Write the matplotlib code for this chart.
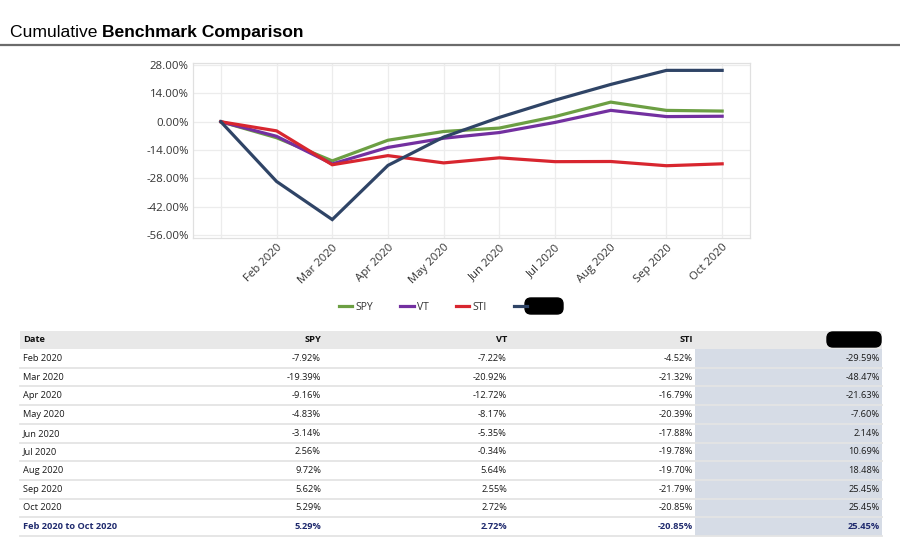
import matplotlib
matplotlib.use("Agg")
import matplotlib.pyplot as plt
from matplotlib.patches import FancyBboxPatch, Rectangle
from matplotlib.lines import Line2D

# ---------------- data ----------------
months = ["Feb 2020", "Mar 2020", "Apr 2020", "May 2020", "Jun 2020",
          "Jul 2020", "Aug 2020", "Sep 2020", "Oct 2020"]
series_names = ["SPY", "VT", "STI", ""]
spy = [-7.92, -19.39, -9.16, -4.83, -3.14, 2.56, 9.72, 5.62, 5.29]
vt = [-7.22, -20.92, -12.72, -8.17, -5.35, -0.34, 5.64, 2.55, 2.72]
sti = [-4.52, -21.32, -16.79, -20.39, -17.88, -19.78, -19.70, -21.79, -20.85]
fund = [-29.59, -48.47, -21.63, -7.60, 2.14, 10.69, 18.48, 25.45, 25.45]
summary_label = "Feb 2020 to Oct 2020"
summary = [5.29, 2.72, -20.85, 25.45]
start_value = 0.0
y_ticks = [28, 14, 0, -14, -28, -42, -56]

colors = ["#6c9f43", "#7330a0", "#d8262f", "#2f4466"]

W, H = 900, 541
fig = plt.figure(figsize=(W / 100, H / 100), dpi=100)
fig.patch.set_facecolor("white")

# overlay axes in pixel coordinates
ov = fig.add_axes([0, 0, 1, 1])
ov.set_xlim(0, W)
ov.set_ylim(H, 0)
ov.axis("off")

# title
tfs = 12.6
t1 = ov.text(10, 37, "Cumulative ", fontsize=tfs, family="Liberation Sans",
             ha="left", va="baseline", color="black")
fig.canvas.draw()
bb = t1.get_window_extent()
x2 = ov.transData.inverted().transform((bb.x1, bb.y0))[0]
ov.text(x2, 37, "Benchmark Comparison", fontsize=tfs, family="Liberation Sans",
        fontweight="bold", ha="left", va="baseline", color="black")
ov.plot([0, W], [45, 45], color="#6b6b6b", lw=1.6, solid_capstyle="butt")

# ---------------- line chart ----------------
ax = fig.add_axes([193 / W, 1 - 238 / H, (750 - 193) / W, (238 - 63) / H])
x = list(range(len(months) + 1))
all_series = [spy, vt, sti, fund]
for name, vals, c in zip(series_names, all_series, colors):
    ax.plot(x, [start_value] + vals, color=c, lw=2.3, label=name,
            solid_joinstyle="miter", zorder=3)

ax.set_xlim(-0.5, len(months) + 0.5)
ax.set_ylim(-57.6, 29.1)
ax.set_yticks(y_ticks)
ax.set_yticklabels([f"{v:.2f}%" for v in y_ticks], family="Open Sans",
                   fontsize=8.2, color="#333333")
ax.set_xticks(x)
ax.set_xticklabels([""] + months, rotation=45, ha="right", va="top",
                   rotation_mode="anchor", family="Open Sans", fontsize=8.2,
                   color="#333333")
ax.tick_params(length=0, pad=3)
ax.grid(True, color="#ececec", lw=0.9)
ax.set_axisbelow(True)
for s in ax.spines.values():
    s.set_color("#e0e0e0")
    s.set_linewidth(0.9)

handles = [Line2D([0], [0], color=c, lw=2.3) for c in colors]
leg = fig.legend(handles, ["SPY", "VT", "STI", "\u2003\u2003\u2003"],
                 loc="center", bbox_to_anchor=(450 / W, 1 - 307 / H),
                 ncol=4, frameon=False, handlelength=1.3, handletextpad=0.3,
                 columnspacing=2.6, prop={"family": "Open Sans", "size": 7.5})
for t in leg.get_texts():
    t.set_color("#333333")

# redaction blob in legend
ov.add_patch(FancyBboxPatch((527, 300), 34, 12,
                            boxstyle="round,pad=2,rounding_size=6",
                            fc="black", ec="black", zorder=10))

# ---------------- table ----------------
tx0, tx1 = 20, 882
col_right = [321, 507, 693, 880]
hdr_top, hdr_bot = 331, 349
row_h = 18.7
n_rows = len(months) + 1
table_bottom = hdr_bot + n_rows * row_h

ov.add_patch(Rectangle((tx0, hdr_top), tx1 - tx0, hdr_bot - hdr_top,
                       fc="#e8e8e8", ec="none", zorder=1))
ov.add_patch(Rectangle((695, hdr_bot), tx1 - 695, table_bottom - hdr_bot,
                       fc="#d6dce6", ec="none", zorder=1))

fs = 6.7
hy = (hdr_top + hdr_bot) / 2
ov.text(23, hy, "Date", family="Open Sans", fontsize=fs, fontweight="bold",
        ha="left", va="center", color="#111111", zorder=3)
for name, xr in zip(series_names, col_right):
    ov.text(xr, hy, name, family="Open Sans", fontsize=fs, fontweight="bold",
            ha="right", va="center", color="#111111", zorder=3)
# redaction blob in table header
ov.add_patch(FancyBboxPatch((829, 334), 50, 11,
                            boxstyle="round,pad=2,rounding_size=6",
                            fc="black", ec="black", zorder=10))

for i, m in enumerate(months):
    cy = hdr_bot + (i + 0.5) * row_h
    ov.text(23, cy, m, family="Open Sans", fontsize=fs, ha="left",
            va="center", color="#1a1a1a", zorder=3)
    for vals, xr in zip(all_series, col_right):
        ov.text(xr, cy, f"{vals[i]:.2f}%", family="Open Sans", fontsize=fs,
                ha="right", va="center", color="#1a1a1a", zorder=3)
    ly = hdr_bot + (i + 1) * row_h
    ov.plot([tx0, tx1], [ly, ly], color="#e4e4e4", lw=1.3, zorder=2)

cy = hdr_bot + (n_rows - 0.5) * row_h
navy = "#1f2a6e"
ov.text(23, cy, summary_label, family="Open Sans", fontsize=fs,
        fontweight="bold", ha="left", va="center", color=navy, zorder=3)
for v, xr in zip(summary, col_right):
    ov.text(xr, cy, f"{v:.2f}%", family="Open Sans", fontsize=fs,
            fontweight="bold", ha="right", va="center", color=navy, zorder=3)
ov.plot([tx0, tx1], [table_bottom, table_bottom], color="#e4e4e4", lw=1.3,
        zorder=2)

fig.savefig("out.png", dpi=100)
